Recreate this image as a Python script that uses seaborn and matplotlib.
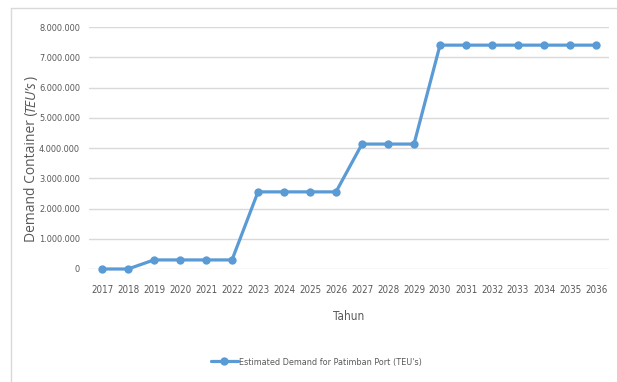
import matplotlib
matplotlib.use("Agg")
import matplotlib.pyplot as plt
from matplotlib.lines import Line2D
import pandas as pd
import seaborn as sns

years = [str(y) for y in range(2017, 2037)]
demand = [0, 0, 300000, 300000, 300000, 300000,
          2550000, 2550000, 2550000, 2550000,
          4130000, 4130000, 4130000,
          7400000, 7400000, 7400000, 7400000, 7400000, 7400000, 7400000]
series_name = "Estimated Demand for Patimban Port (TEU's)"
y_ticks = [0, 1000000, 2000000, 3000000, 4000000, 5000000, 6000000, 7000000, 8000000]
ylabel_parts = [("Demand Container (", "normal"), ("TEU\u2019s", "italic"), (")", "normal")]

df = pd.DataFrame({"Tahun": years, "Demand": demand, "Series": series_name})

sns.set_theme(style="white")
plt.rcParams["font.family"] = ["DejaVu Sans"]
plt.rcParams["font.stretch"] = "condensed"

W, H = 617, 382
fig = plt.figure(figsize=(W / 100, H / 100), dpi=100)
ax = fig.add_axes([89 / W, 1 - 269 / H, 520 / W, 242 / H])

blue = "#5B9BD5"
grey = "#595959"
sns.lineplot(data=df, x="Tahun", y="Demand", hue="Series", palette=[blue],
             marker="o", markersize=6, markeredgewidth=0, linewidth=2.3,
             ax=ax, sort=False, clip_on=False, zorder=3)

ax.set_xlim(-0.5, len(years) - 0.5)
ax.set_ylim(0, 8000000)
ax.set_yticks(y_ticks)
ax.set_yticklabels([f"{v:,}".replace(",", ".") for v in y_ticks])
ax.grid(axis="y", color="#d9d9d9", linewidth=1)
ax.set_axisbelow(True)
for s in ax.spines.values():
    s.set_visible(False)
ax.tick_params(axis="x", length=0, labelsize=7, labelcolor=grey, pad=11.5)
ax.tick_params(axis="y", length=0, labelsize=6.6, labelcolor=grey, pad=6.5)

ax.set_xlabel("Tahun", fontsize=8.5, color=grey, labelpad=11)
ax.set_ylabel("")

# rotated y-axis title with an italic unit, laid out piece by piece
renderer = fig.canvas.get_renderer()
y_px = 242
for txt, style in ylabel_parts:
    t = fig.text(31 / W, 1 - y_px / H, txt, rotation=90, rotation_mode="anchor",
                 ha="left", va="center", family="Open Sans", stretch="normal",
                 style=style, fontsize=10, color=grey)
    y_px -= t.get_window_extent(renderer).height

leg = ax.legend(loc="center", bbox_to_anchor=(316 / W, 1 - 362 / H),
                bbox_transform=fig.transFigure, frameon=False, fontsize=6.5,
                handlelength=3.0, handletextpad=0.1)
for t in leg.get_texts():
    t.set_color(grey)

# light chart-area border (left and top edges)
fig.add_artist(Line2D([11 / W, 11 / W], [0, 1 - 8 / H], transform=fig.transFigure,
                      color="#d9d9d9", linewidth=1))
fig.add_artist(Line2D([11 / W, 1], [1 - 8 / H, 1 - 8 / H], transform=fig.transFigure,
                      color="#d9d9d9", linewidth=1))

fig.savefig("out.png", dpi=100)
